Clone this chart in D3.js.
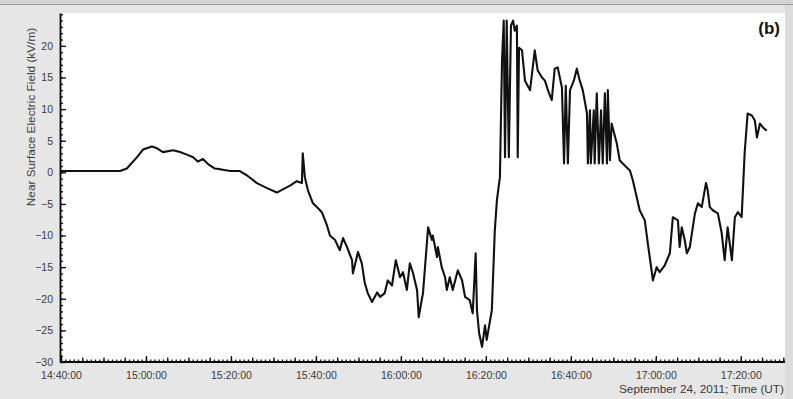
<!DOCTYPE html>
<html>
<head>
<meta charset="utf-8">
<script src="https://cdn.jsdelivr.net/npm/d3@7"></script>
<style>
  html, body { margin: 0; padding: 0; background: #e6e6e6; }
  svg { display: block; font-family: "Liberation Sans", Arial, sans-serif; }
</style>
</head>
<body>
<svg width="793" height="399"></svg>
<script>
// minutes after 14:40:00 UT, 24 Sep 2011
const minutes = [
  0, 6.8, 13.9, 15.5, 17.9, 19.3, 21.4, 22.6, 24.0, 26.4, 28.0, 29.6, 31.1, 32.2, 33.4, 34.6,
  36.2, 37.4, 39.8, 42.1, 43.8, 46.1, 48.5, 50.8, 52.2, 53.9, 55.5, 56.7, 56.9, 57.4, 58.1,
  59.3, 60.5, 61.4, 62.6, 63.3, 64.5, 65.6, 66.4, 67.3, 68.5, 68.7, 69.9, 70.8, 71.5, 72.2,
  73.2, 74.4, 75.1, 76.2, 76.9, 77.9, 78.8, 79.8, 80.5, 81.4, 82.1, 82.8, 83.8, 84.2, 84.9,
  85.2, 86.4, 87.3, 87.5, 88.5, 88.7, 89.6, 90.4, 90.8, 91.5, 92.2, 93.4, 94.4, 95.1, 96.2,
  96.9, 97.6, 97.9, 98.4, 99.1, 99.8, 100.2, 101.4, 102.1, 102.6, 103.3, 103.8, 104.2, 104.5,
  104.9, 105.4, 105.9, 106.4, 106.8, 107.3, 107.5, 107.8, 108.5, 109.2, 110.4, 111.5, 112.2,
  113.2, 113.9, 114.6, 115.5, 116.2, 116.9, 117.9, 118.4, 118.8, 119.3, 119.8, 120.7, 121.4,
  122.1, 122.8, 123.8, 124.0, 124.5, 124.7, 125.4, 125.6, 126.1, 126.6, 127.1, 127.5, 128.0,
  128.5, 128.7, 129.2, 129.6, 130.8, 131.5, 132.2, 133.9, 134.6, 136.2, 137.4, 138.1, 139.1,
  139.3, 140.2, 140.9, 142.1, 143.3, 144.0, 145.2, 145.6, 146.1, 146.8, 147.3, 148.0, 149.2,
  149.9, 150.8, 151.8, 152.2, 152.7, 153.4, 154.6, 155.5, 156.2, 156.9, 157.9, 158.6, 159.3,
  160.2, 160.9, 161.6, 162.6, 163.3, 163.8, 164.5, 165.2, 166.1
];

// near surface electric field, kV/m
const field = [
  0.2, 0.2, 0.2, 0.6, 2.4, 3.6, 4.1, 3.8, 3.2, 3.5, 3.2, 2.8, 2.4, 1.7, 2.1, 1.3,
  0.6, 0.5, 0.2, 0.2, -0.5, -1.7, -2.5, -3.2, -2.7, -2.1, -1.4, -1.7, 3.0, -0.8, -2.8,
  -4.9, -5.7, -6.3, -8.4, -10.0, -10.7, -12.3, -10.4, -11.8, -13.9, -16.0, -12.6, -14.4, -17.5, -19.1,
  -20.5, -19.0, -19.7, -19.1, -17.1, -17.9, -13.9, -16.6, -15.8, -18.6, -14.4, -15.8, -18.6, -22.9, -20.2,
  -19.1, -8.7, -10.7, -10.0, -13.4, -11.8, -15.0, -16.6, -18.6, -16.6, -18.6, -15.5, -17.1, -19.7, -20.2,
  -22.3, -12.8, -21.8, -25.4, -27.6, -24.2, -26.5, -21.8, -9.2, -4.4, -0.8, 17.7, 24.0, 2.4,
  24.0, 2.4, 23.2, 24.0, 22.4, 23.2, 2.4, 19.7, 19.3, 14.5, 13.0, 19.3, 16.1,
  15.0, 14.5, 13.0, 11.4, 16.4, 16.6, 13.4, 1.4, 13.7, 1.4, 13.0, 14.5, 16.4,
  14.5, 13.0, 9.3, 1.4, 9.8, 1.4, 9.8, 1.4, 12.5, 1.4, 9.8, 1.4, 12.5,
  1.4, 13.0, 1.9, 7.7, 4.6, 1.9, 1.4, 0.3, -1.3, -6.0, -7.6, -11.2, -16.0,
  -17.1, -15.0, -15.8, -14.7, -12.8, -7.1, -7.6, -11.8, -8.7, -10.7, -12.8, -11.8, -6.5,
  -4.9, -5.5, -1.7, -2.8, -5.5, -6.0, -6.5, -9.6, -13.9, -8.7, -13.9, -7.1, -6.3,
  -7.1, 3.0, 9.3, 9.0, 8.2, 5.5, 7.7, 7.1, 6.6
];

const yTicks = [-30, -25, -20, -15, -10, -5, 0, 5, 10, 15, 20];
const yLabel = "Near Surface Electric Field (kV/m)";
const xLabel = "September 24, 2011; Time (UT)";
const panelTag = "(b)";

const start = Date.UTC(2011, 8, 24, 14, 40, 0);
const data = minutes.map((m, i) => ({ t: new Date(start + m * 60000), v: field[i] }));

const plot = { left: 60, right: 785, top: 13, bottom: 362 };

const svg = d3.select("svg");

// top frame strip
svg.append("rect").attr("x", 0).attr("y", 0).attr("width", 793).attr("height", 5).attr("fill", "#d4d4d4");
svg.append("line").attr("x1", 0).attr("x2", 793).attr("y1", 4.5).attr("y2", 4.5)
  .attr("stroke", "#9a9a9a").attr("stroke-width", 1);
svg.append("rect").attr("x", 785).attr("y", 5).attr("width", 8).attr("height", 394).attr("fill", "#dcdcdc");

// white plot area
svg.append("rect")
  .attr("x", plot.left).attr("y", plot.top)
  .attr("width", plot.right - plot.left).attr("height", plot.bottom - plot.top)
  .attr("fill", "#ffffff");

const x = d3.scaleUtc()
  .domain([new Date(start), new Date(start + 170.4 * 60000)])
  .range([61, plot.right]);

const y = d3.scaleLinear()
  .domain([-30, 25.2])
  .range([plot.bottom, plot.top]);

// x axis: 1 min, 5 min and 20 min ticks, all pointing inward
const gx = svg.append("g").attr("transform", `translate(0,${plot.bottom})`);
gx.append("g")
  .call(d3.axisBottom(x).ticks(d3.utcMinute.every(1)).tickSizeInner(-2.5).tickSizeOuter(0).tickFormat(""))
  .call(g => g.select(".domain").remove());
gx.append("g")
  .call(d3.axisBottom(x).ticks(d3.utcMinute.every(5)).tickSizeInner(-4.5).tickSizeOuter(0).tickFormat(""))
  .call(g => g.select(".domain").remove());
gx.append("g")
  .call(d3.axisBottom(x).ticks(d3.utcMinute.every(20)).tickSizeInner(-6).tickSizeOuter(0)
    .tickPadding(10).tickFormat(d3.utcFormat("%H:%M:%S")))
  .call(g => g.select(".domain").attr("stroke-width", 1.8).attr("d", `M${plot.left},0H${plot.right}`));
gx.selectAll("line").attr("stroke", "#111").attr("stroke-width", 1.3);
gx.selectAll("text").attr("font-size", 10.5).attr("fill", "#3a3a3a");

const gy = svg.append("g").attr("transform", `translate(${plot.left},0)`);
gy.append("g")
  .call(d3.axisLeft(y).tickValues(d3.range(-30, 26, 1)).tickSizeInner(-3).tickSizeOuter(0).tickFormat(""))
  .call(g => g.select(".domain").remove());
gy.append("g")
  .call(d3.axisLeft(y).tickValues(yTicks).tickSizeInner(-6).tickSizeOuter(0).tickPadding(7))
  .call(g => g.select(".domain").attr("stroke-width", 1.8));
gy.selectAll("line").attr("stroke", "#111").attr("stroke-width", 1.3);
gy.selectAll("text").attr("font-size", 10.5).attr("fill", "#3a3a3a");

// field trace
svg.append("path")
  .datum(data)
  .attr("fill", "none")
  .attr("stroke", "#111")
  .attr("stroke-width", 2.1)
  .attr("stroke-linejoin", "round")
  .attr("d", d3.line().x(d => x(d.t)).y(d => y(d.v)));

// labels
svg.append("text")
  .attr("transform", "translate(35,117) rotate(-90)")
  .attr("text-anchor", "middle")
  .attr("font-size", 11.8)
  .attr("fill", "#3a3a3a")
  .text(yLabel);

svg.append("text")
  .attr("x", 784).attr("y", 393)
  .attr("text-anchor", "end")
  .attr("font-size", 11.8)
  .attr("fill", "#3a3a3a")
  .text(xLabel);

svg.append("text")
  .attr("x", 780).attr("y", 34)
  .attr("text-anchor", "end")
  .attr("font-size", 17)
  .attr("font-weight", "bold")
  .attr("font-family", "Liberation Sans, Arial, sans-serif")
  .attr("fill", "#111")
  .text(panelTag);
</script>
</body>
</html>
